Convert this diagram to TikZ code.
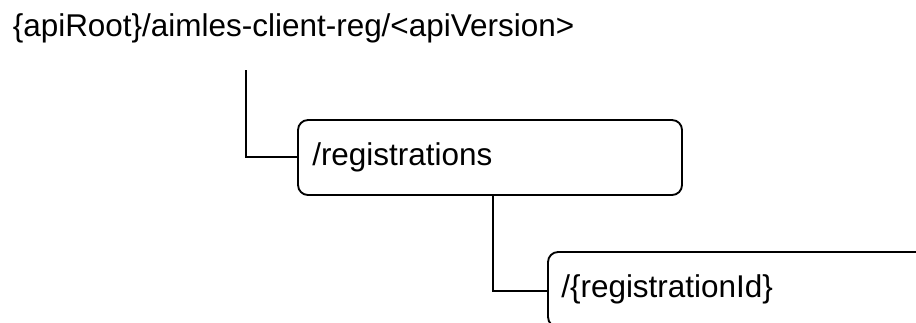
\documentclass[tikz,border=0pt]{standalone}
\usepackage{fontspec}
\setmainfont{Liberation Sans}
\begin{document}
\begin{tikzpicture}[x=0.75pt,y=-0.75pt,
  lbl/.style={inner sep=0pt,anchor=base west,font=\fontsize{23.6}{28}\selectfont},
  res/.style={draw,line width=1.4pt,rounded corners=7.5pt},
  conn/.style={line width=1.4pt}]
\useasboundingbox (0,0) rectangle (916,322);
\node[lbl] (root) at (12.5,36) {\{apiRoot\}/aimles-client-reg/<apiVersion>};
\coordinate (r0) at (246,70);
\draw[res] (298,120) rectangle (682,195);
\coordinate (b1) at (298,157);
\node[lbl] (reg) at (312,165) {/registrations};
\coordinate (c1) at (493,195);
\draw[res] (548,252) rectangle (932,327);
\coordinate (b2) at (548,291);
\node[lbl] (rid) at (561,297.5) {/\{registrationId\}};
\draw[conn] (r0) |- (b1);
\draw[conn] (c1) |- (b2);
\end{tikzpicture}
\end{document}
